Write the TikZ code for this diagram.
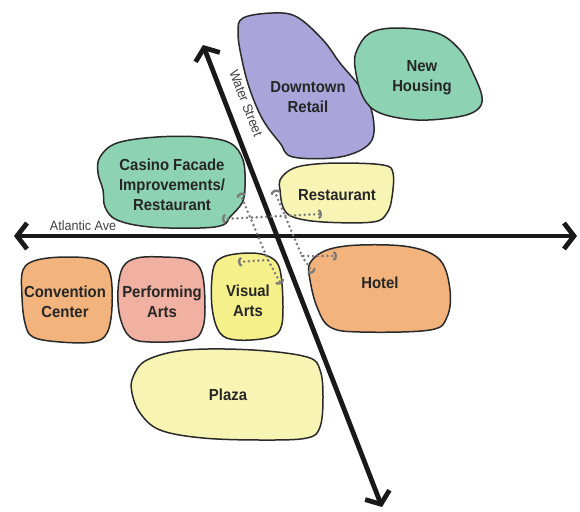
\documentclass[tikz,border=0pt]{standalone}
\usepackage{fontspec}
\setmainfont{Liberation Sans}
\newfontfamily\lblfont{Liberation Sans}[FakeStretch=0.93]
\usetikzlibrary{arrows.meta}
\definecolor{purp}{HTML}{A9A5DA}
\definecolor{grn}{HTML}{8ED2B4}
\definecolor{ylw}{HTML}{F8F5B4}
\definecolor{ylwb}{HTML}{F5F08A}
\definecolor{org}{HTML}{F2B47C}
\definecolor{pinkb}{HTML}{F0B0A2}
\definecolor{edge}{HTML}{2A2A2A}
\definecolor{dotg}{HTML}{7A7A7A}
\tikzset{
  blob/.style={draw=edge, line width=1.5pt},
  lbl/.style={font=\lblfont\bfseries\fontsize{16}{20}\selectfont, text=black!85, align=center, inner sep=0pt},
  streetlbl/.style={font=\lblfont\fontsize{13.5}{15}\selectfont, text=black!75, inner sep=0pt},
  road/.style={line width=4.8pt, black!90, {Straight Barb[length=10pt,width=26pt]}-{Straight Barb[length=10pt,width=26pt]}},
  conn/.style={dotg, line width=2.8pt, line cap=round, dash pattern=on 0pt off 4.8pt,
    >={Arc Barb[length=3.5pt,width=10pt,line width=2.2pt]}}
}
\begin{document}
\begin{tikzpicture}[x=1pt,y=-1pt]
\useasboundingbox (0,0) rectangle (580,511);
\fill[white] (0,0) rectangle (580,511);
% Downtown Retail
\draw[blob, fill=purp] plot[smooth cycle, tension=0.6] coordinates {
 (243,18) (273,13) (297,17) (323,40) (340,63) (362,90) (373,117) (370,143)
 (340,157) (293,157) (280,143) (263,120) (250,90) (242,60) (238,33)};
\node[lbl] (retail) at (308,97) {Downtown\\Retail};
% New Housing
\draw[blob, fill=grn] plot[smooth cycle, tension=0.6] coordinates {
 (357,50) (370,33) (397,28) (437,33) (460,50) (473,73) (482,97) (477,110)
 (457,117) (417,120) (380,113) (363,97) (355,67)};
\node[lbl] (housing) at (422,78) {New\\Housing};
% Casino
\draw[blob, fill=grn] plot[smooth cycle, tension=0.6] coordinates {
 (100,157) (117,143) (157,137) (200,137) (230,143) (243,160) (245,187) (242,203)
 (230,217) (223,225) (200,228) (150,227) (117,220) (105,207) (103,190) (98,173)};
\node[lbl] (casino) at (172,185) {Casino Facade\\Improvements/\\Restaurant};
% Restaurant
\draw[blob, fill=ylw] plot[smooth cycle, tension=0.6] coordinates {
 (280,180) (290,170) (307,165) (340,163) (383,165) (393,173) (392,197) (387,213)
 (373,222) (323,222) (293,217) (283,207) (280,190)};
\node[lbl] (rest) at (337,195) {Restaurant};
% Convention Center
\draw[blob, fill=org] plot[smooth cycle, tension=0.6] coordinates {
 (23,270) (37,260) (67,257) (97,260) (110,273) (112,307) (107,333) (93,342)
 (60,342) (33,337) (25,323) (22,297)};
\node[lbl] (conv) at (65,302) {Convention\\Center};
% Performing Arts
\draw[blob, fill=pinkb] plot[smooth cycle, tension=0.6] coordinates {
 (123,267) (137,258) (163,257) (190,260) (202,273) (205,307) (202,330) (190,340)
 (150,342) (130,337) (120,317) (118,290)};
\node[lbl] (perf) at (162,302) {Performing\\Arts};
% Visual Arts
\draw[blob, fill=ylwb] plot[smooth cycle, tension=0.6] coordinates {
 (213,270) (223,257) (250,253) (270,257) (280,270) (283,307) (280,330) (267,338)
 (237,340) (220,333) (212,307)};
\node[lbl] (visual) at (248,301) {Visual\\Arts};
% Hotel
\draw[blob, fill=org] plot[smooth cycle, tension=0.6] coordinates {
 (310,263) (327,250) (360,245) (410,247) (440,260) (450,290) (447,317) (430,330)
 (360,332) (330,327) (317,307) (310,280)};
\node[lbl] (hotel) at (380,283) {Hotel};
% Plaza
\draw[blob, fill=ylw] plot[smooth cycle, tension=0.6] coordinates {
 (133,377) (147,360) (187,350) (253,350) (307,357) (320,370) (323,397) (320,427)
 (307,438) (263,440) (203,438) (160,430) (140,413) (132,393)};
\node[lbl] (plaza) at (228,395) {Plaza};
% Streets
\coordinate (aa-w) at (14,236);
\coordinate (aa-e) at (577,236);
\coordinate (ws-n) at (203,45);
\coordinate (ws-s) at (382,507);
\draw[road] (aa-w) -- (aa-e);
\draw[road] (ws-n) -- (ws-s);
\node[streetlbl] (aalbl) at (83,226) {Atlantic Ave};
\node[streetlbl, rotate=-68.8] (wslbl) at (246,103) {Water Street};
% Connections
\coordinate (c1) at (222,219);
\coordinate (r1) at (322,214);
\coordinate (c2) at (240,193);
\coordinate (j1) at (268,260);
\coordinate (v1) at (238,262);
\coordinate (e1) at (281,284);
\coordinate (r2) at (274,190);
\coordinate (j2) at (302,256);
\coordinate (h1) at (337,256);
\coordinate (h2) at (313,273);
\draw[conn, <->] (c1) -- (r1);
\draw[conn, <->] (c2) -- (j1) -- (e1);
\draw[conn, ->] (j1) -- (v1);
\draw[conn, <->] (r2) -- (j2) -- (h1);
\draw[conn, ->] (j2) -- (h2);
\end{tikzpicture}
\end{document}
